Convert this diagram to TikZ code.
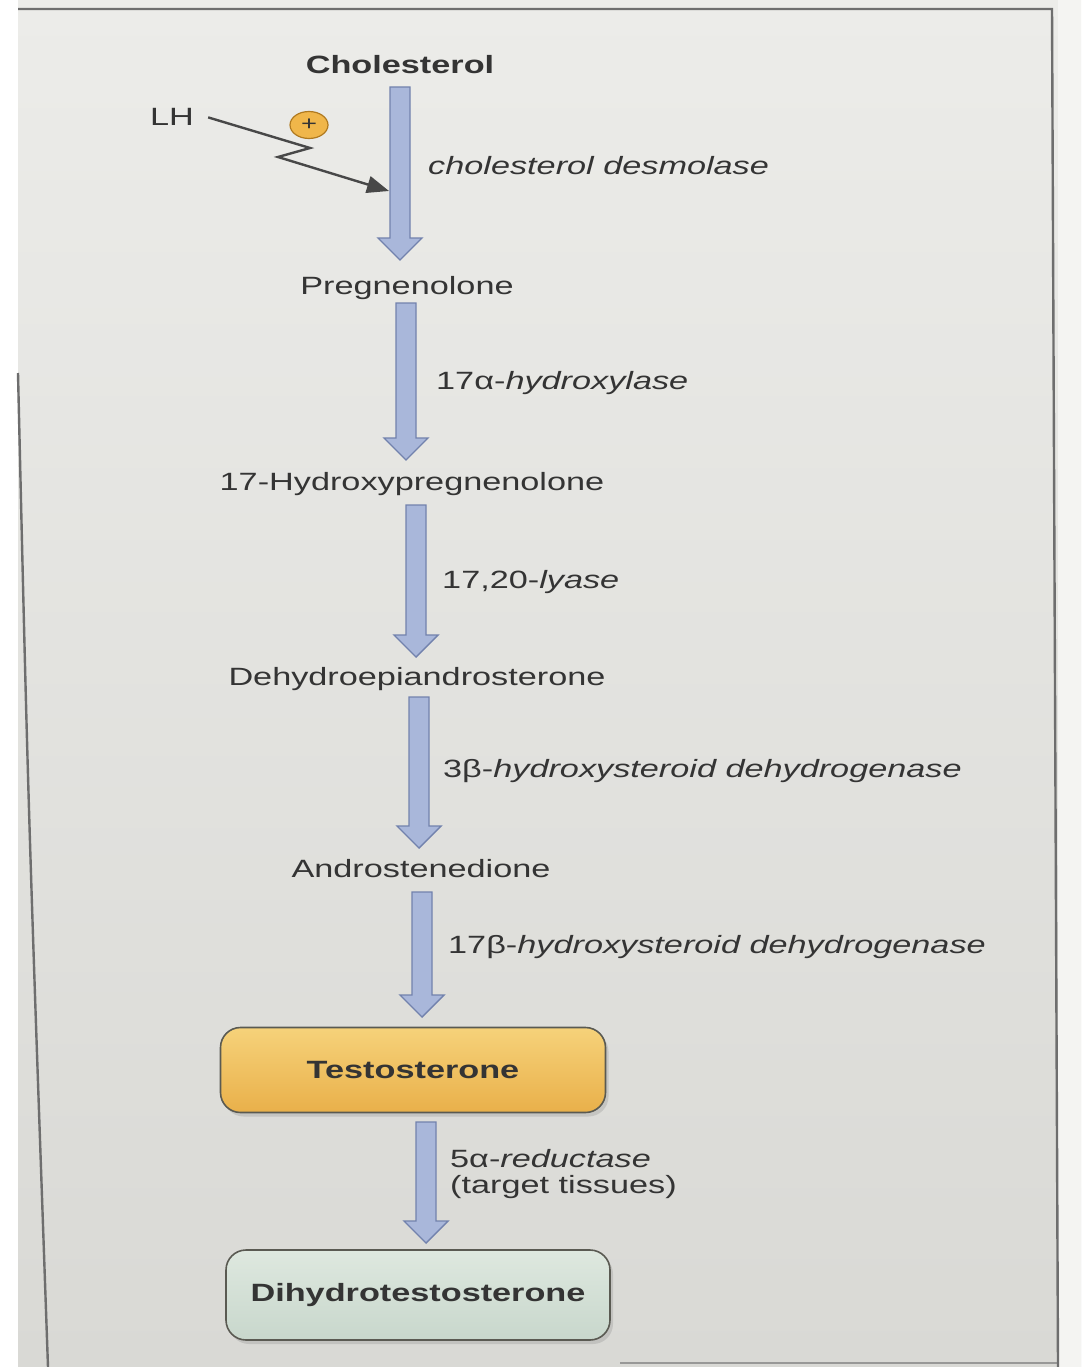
\documentclass[tikz,border=0pt]{standalone}
\usepackage{fontspec}
\setmainfont{Liberation Sans}[FakeStretch=1.37]
\usetikzlibrary{arrows.meta,shapes.geometric,shadows}

\definecolor{txt}{HTML}{343434}
\definecolor{pagetop}{HTML}{ECECE9}
\definecolor{pagebot}{HTML}{D9D9D5}
\definecolor{framecol}{HTML}{6E6E6E}
\definecolor{arrowfill}{HTML}{A9B7DA}
\definecolor{arrowedge}{HTML}{7282AD}
\definecolor{plusfill}{HTML}{F0B64A}
\definecolor{plusedge}{HTML}{B07A20}
\definecolor{testotop}{HTML}{F6D27A}
\definecolor{testobot}{HTML}{E9B04A}
\definecolor{dhttop}{HTML}{DEE8DF}
\definecolor{dhtbot}{HTML}{C8D7CC}
\definecolor{boxedge}{HTML}{5A5A52}

% block arrow from a top point #1 down to a tip #2
\newcommand\bluearrow[2]{%
  \filldraw[flowarrow]
    ([xshift=-10pt]#1) -- ([xshift=10pt]#1)
    -- ([xshift=10pt,yshift=22pt]#2) -- ([xshift=22pt,yshift=22pt]#2)
    -- (#2)
    -- ([xshift=-22pt,yshift=22pt]#2) -- ([xshift=-10pt,yshift=22pt]#2)
    -- cycle;}

\begin{document}
\begin{tikzpicture}[x=1pt,y=-1pt,
  lbl/.style={anchor=base, text=txt, inner sep=0pt,
    font=\fontsize{25}{30}\selectfont},
  compound/.style={lbl},
  enzyme/.style={lbl, anchor=base west},
  flowarrow/.style={fill=arrowfill, draw=arrowedge, line width=1.4pt, line join=miter},
  framing/.style={draw=framecol, line width=2.4pt},
  endbox/.style={draw=boxedge, line width=1.6pt, rounded corners=20pt,
    text=txt, font=\fontsize{25}{30}\selectfont\bfseries,
    drop shadow={opacity=0.25, shadow xshift=3pt, shadow yshift=-4pt}},
  lhline/.style={draw=txt!90, line width=2.4pt, line join=miter,
    -{Triangle[length=22pt,width=17pt]}}
]
\useasboundingbox (0,0) rectangle (1081,1367);

% sheet of paper
\fill[white] (0,0) rectangle (1081,1367);
\shade[top color=pagetop, bottom color=pagebot] (18,0) rectangle (1081,1367);
\fill[pagetop!60!white] (1058,0) rectangle (1081,1367);
\draw[framing] (18,9) -- (1052,9) -- (1058,1367);
\draw[framing] (18,373) .. controls (28,800) .. (48,1367);
\draw[framing, draw opacity=0.6] (620,1363) -- (1058,1363);

% compounds
\node[compound, font=\fontsize{25}{30}\selectfont\bfseries] (chol) at (400,74) {Cholesterol};
\node[compound] (preg)  at (407,294) {Pregnenolone};
\node[compound] (ohp)   at (412,490) {17-Hydroxypregnenolone};
\node[compound] (dhea)  at (417,685) {Dehydroepiandrosterone};
\node[compound] (andro) at (421,877) {Androstenedione};

\node[endbox, top color=testotop, bottom color=testobot,
  minimum width=385pt, minimum height=85pt] (testo) at (413,1070) {Testosterone};
\node[endbox, top color=dhttop, bottom color=dhtbot,
  minimum width=384pt, minimum height=90pt] (dht) at (418,1295) {Dihydrotestosterone};

% enzymes
\node[enzyme] (e1) at (428,175) {\itshape cholesterol desmolase};
\node[enzyme] (e2) at (436,389) {17α-\textit{hydroxylase}};
\node[enzyme] (e3) at (442,588) {17,20-\textit{lyase}};
\node[enzyme] (e4) at (443,777) {3β-\textit{hydroxysteroid dehydrogenase}};
\node[enzyme] (e5) at (448,953) {17β-\textit{hydroxysteroid dehydrogenase}};
\node[enzyme] (e6) at (450,1167) {5α-\textit{reductase}};
\node[enzyme] (e6b) at (450,1193) {(target tissues)};

% reaction arrows
\coordinate (a1top) at (400,87);   \coordinate (a1tip) at (400,260);
\coordinate (a2top) at (406,303);  \coordinate (a2tip) at (406,460);
\coordinate (a3top) at (416,505);  \coordinate (a3tip) at (416,657);
\coordinate (a4top) at (419,697);  \coordinate (a4tip) at (419,848);
\coordinate (a5top) at (422,892);  \coordinate (a5tip) at (422,1017);
\coordinate (a6top) at (426,1122); \coordinate (a6tip) at (426,1243);
\bluearrow{a1top}{a1tip}
\bluearrow{a2top}{a2tip}
\bluearrow{a3top}{a3tip}
\bluearrow{a4top}{a4tip}
\bluearrow{a5top}{a5tip}
\bluearrow{a6top}{a6tip}

% LH stimulation
\node[lbl, anchor=base west] (lh) at (150,126) {LH};
\node[ellipse, fill=plusfill, draw=plusedge, line width=1.2pt,
  minimum width=38pt, minimum height=27pt, inner sep=0pt,
  text=txt, font=\fontsize{20}{20}\selectfont] (plus) at (309,125) {+};
\coordinate (zz1) at (310,148);
\coordinate (zz2) at (278,157);
\coordinate (lhtip) at (389,191);
\draw[lhline] ([xshift=14pt]lh.east) -- (zz1) -- (zz2) -- (lhtip);
\end{tikzpicture}
\end{document}
